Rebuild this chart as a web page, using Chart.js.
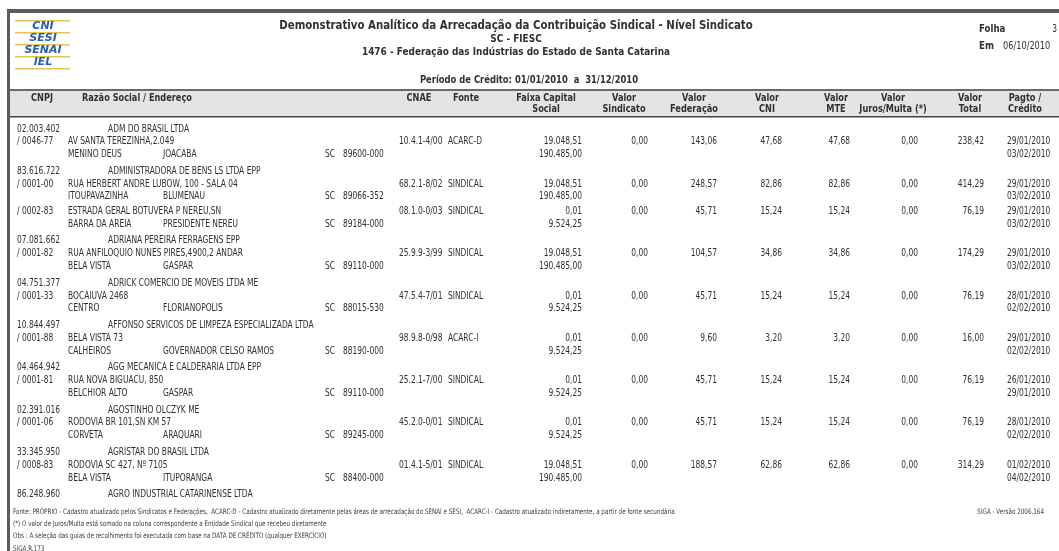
<!DOCTYPE html>
<html>
<head>
<meta charset="utf-8">
<script src="https://cdn.jsdelivr.net/npm/chart.js@4"></script>
<style>
  html, body { margin: 0; padding: 0; background: #fff; }
  canvas { display: block; }
</style>
</head>
<body>
<canvas id="rel" width="1059" height="551"></canvas>
<script>
// --- empresas ---
const cnpjRaiz = ['02.003.402', '83.616.722', '07.081.662', '04.751.377', '10.844.497',
  '04.464.942', '02.391.016', '33.345.950', '86.248.960'];
const razaoSocial = ['ADM DO BRASIL LTDA', 'ADMINISTRADORA DE BENS LS LTDA EPP',
  'ADRIANA PEREIRA FERRAGENS EPP', 'ADRICK COMERCIO DE MOVEIS LTDA ME',
  'AFFONSO SERVICOS DE LIMPEZA ESPECIALIZADA LTDA', 'AGG MECANICA E CALDERARIA LTDA EPP',
  'AGOSTINHO OLCZYK ME', 'AGRISTAR DO BRASIL LTDA', 'AGRO INDUSTRIAL CATARINENSE LTDA'];

// --- estabelecimentos (guias) ---
const empresa = [0, 1, 1, 2, 3, 4, 5, 6, 7];
const filial = ['/ 0046-77', '/ 0001-00', '/ 0002-83', '/ 0001-82', '/ 0001-33', '/ 0001-88',
  '/ 0001-81', '/ 0001-06', '/ 0008-83'];
const endereco = ['AV SANTA TEREZINHA,2.049', 'RUA HERBERT ANDRE LUBOW, 100 - SALA 04',
  'ESTRADA GERAL BOTUVERA P NEREU,SN', 'RUA ANFILOQUIO NUNES PIRES,4900,2 ANDAR',
  'BOCAIUVA 2468', 'BELA VISTA 73', 'RUA NOVA BIGUACU, 850', 'RODOVIA BR 101,SN KM 57',
  'RODOVIA SC 427, Nº 7105'];
const bairro = ['MENINO DEUS', 'ITOUPAVAZINHA', 'BARRA DA AREIA', 'BELA VISTA', 'CENTRO',
  'CALHEIROS', 'BELCHIOR ALTO', 'CORVETA', 'BELA VISTA'];
const cidade = ['JOACABA', 'BLUMENAU', 'PRESIDENTE NEREU', 'GASPAR', 'FLORIANOPOLIS',
  'GOVERNADOR CELSO RAMOS', 'GASPAR', 'ARAQUARI', 'ITUPORANGA'];
const uf = ['SC', 'SC', 'SC', 'SC', 'SC', 'SC', 'SC', 'SC', 'SC'];
const cep = ['89600-000', '89066-352', '89184-000', '89110-000', '88015-530', '88190-000',
  '89110-000', '89245-000', '88400-000'];
const cnae = ['10.4.1-4/00', '68.2.1-8/02', '08.1.0-0/03', '25.9.9-3/99', '47.5.4-7/01',
  '98.9.8-0/98', '25.2.1-7/00', '45.2.0-0/01', '01.4.1-5/01'];
const fonte = ['ACARC-D', 'SINDICAL', 'SINDICAL', 'SINDICAL', 'SINDICAL', 'ACARC-I',
  'SINDICAL', 'SINDICAL', 'SINDICAL'];
const faixaDe = [19048.51, 19048.51, 0.01, 19048.51, 0.01, 0.01, 0.01, 0.01, 19048.51];
const faixaAte = [190485.00, 190485.00, 9524.25, 190485.00, 9524.25, 9524.25, 9524.25, 9524.25, 190485.00];
const valorSindicato = [0, 0, 0, 0, 0, 0, 0, 0, 0];
const valorFederacao = [143.06, 248.57, 45.71, 104.57, 45.71, 9.60, 45.71, 45.71, 188.57];
const valorCNI = [47.68, 82.86, 15.24, 34.86, 15.24, 3.20, 15.24, 15.24, 62.86];
const valorMTE = [47.68, 82.86, 15.24, 34.86, 15.24, 3.20, 15.24, 15.24, 62.86];
const valorJuros = [0, 0, 0, 0, 0, 0, 0, 0, 0];
const valorTotal = [238.42, 414.29, 76.19, 174.29, 76.19, 16.00, 76.19, 76.19, 314.29];
const dataPagto = ['29/01/2010', '29/01/2010', '29/01/2010', '29/01/2010', '28/01/2010',
  '29/01/2010', '26/01/2010', '28/01/2010', '01/02/2010'];
const dataCredito = ['03/02/2010', '03/02/2010', '03/02/2010', '03/02/2010', '02/02/2010',
  '02/02/2010', '29/01/2010', '02/02/2010', '04/02/2010'];

// --- cabeçalho das colunas ---
const cabecalho1 = ['CNPJ', 'Razão Social / Endereço', 'CNAE', 'Fonte', 'Faixa Capital', 'Valor',
  'Valor', 'Valor', 'Valor', 'Valor', 'Valor', 'Pagto /'];
const cabecalho2 = ['', '', '', '', 'Social', 'Sindicato', 'Federação', 'CNI', 'MTE',
  'Juros/Multa (*)', 'Total', 'Crédito'];

const rodape = [
  'Fonte: PRÓPRIO - Cadastro atualizado pelos Sindicatos e Federações,  ACARC-D - Cadastro atualizado diretamente pelas áreas de arrecadação do SENAI e SESI,  ACARC-I - Cadastro atualizado indiretamente, a partir de fonte secundária',
  '(*) O valor de Juros/Multa está somado na coluna correspondente a Entidade Sindical que recebeu diretamente',
  'Obs : A seleção das guias de recolhimento foi executada com base na DATA DE CRÉDITO (qualquer EXERCÍCIO)',
  'SIGA.R.173'
];

// largura horizontal comprimida do relatório
const SX = 0.75;
const FONT = '10px "DejaVu Sans"';
const BOLD = 'bold 10px "DejaVu Sans"';
const INK = '#303030';

function moeda(v) {
  const [i, d] = v.toFixed(2).split('.');
  return i.replace(/\B(?=(\d{3})+(?!\d))/g, '.') + ',' + d;
}

function txt(ctx, s, x, y, align, font, color, sx) {
  ctx.save();
  ctx.translate(x, y);
  ctx.scale(sx || SX, 1);
  ctx.font = font || FONT;
  ctx.fillStyle = color || INK;
  ctx.textAlign = align || 'left';
  ctx.textBaseline = 'middle';
  ctx.fillText(s, 0, 0);
  ctx.restore();
}

// linhas (em unidades de linha de texto)
const linhaEmpresa = [], linhaGuia = [];
let ln = 0;
cnpjRaiz.forEach((c, i) => {
  linhaEmpresa[i] = ln;
  let primeira = true;
  empresa.forEach((e, j) => {
    if (e !== i) return;
    ln += primeira ? 1 : 1.13;
    linhaGuia[j] = ln;
    ln += 1;
    primeira = false;
  });
  ln += 1.305;
});
const linhaBairro = linhaGuia.map(l => l + 1);

function coluna(label, x, align, textos, linhas) {
  return {
    label: label,
    data: linhas.map(l => ({ x: x, y: l })),
    textos: textos,
    align: align,
    pointRadius: 0,
    pointHoverRadius: 0
  };
}

const datasets = [
  coluna('CNPJ', 17, 'left', cnpjRaiz, linhaEmpresa),
  coluna('Razão Social', 108, 'left', razaoSocial, linhaEmpresa),
  coluna('Filial', 17, 'left', filial, linhaGuia),
  coluna('Endereço', 68, 'left', endereco, linhaGuia),
  coluna('Bairro', 68, 'left', bairro, linhaBairro),
  coluna('Cidade', 163, 'left', cidade, linhaBairro),
  coluna('UF', 325, 'left', uf, linhaBairro),
  coluna('CEP', 343, 'left', cep, linhaBairro),
  coluna('CNAE', 399, 'left', cnae, linhaGuia),
  coluna('Fonte', 448, 'left', fonte, linhaGuia),
  coluna('Faixa de', 582, 'right', faixaDe.map(moeda), linhaGuia),
  coluna('Faixa até', 582, 'right', faixaAte.map(moeda), linhaBairro),
  coluna('Sindicato', 648, 'right', valorSindicato.map(moeda), linhaGuia),
  coluna('Federação', 717, 'right', valorFederacao.map(moeda), linhaGuia),
  coluna('CNI', 782, 'right', valorCNI.map(moeda), linhaGuia),
  coluna('MTE', 850, 'right', valorMTE.map(moeda), linhaGuia),
  coluna('Juros', 918, 'right', valorJuros.map(moeda), linhaGuia),
  coluna('Total', 984, 'right', valorTotal.map(moeda), linhaGuia),
  coluna('Pagto', 1007, 'left', dataPagto, linhaGuia),
  coluna('Crédito', 1007, 'left', dataCredito, linhaBairro)
];

const cabX = [42, 82, 419, 466, 546, 624, 694, 767, 836, 893, 970, 1025];
const cabAlign = ['center', 'left', 'center', 'center', 'center', 'center', 'center', 'center',
  'center', 'center', 'center', 'center'];

const relatorio = {
  id: 'relatorio',
  beforeDraw(chart) {
    const ctx = chart.ctx;
    ctx.save();
    ctx.fillStyle = '#fff';
    ctx.fillRect(0, 0, chart.width, chart.height);
    // moldura
    ctx.fillStyle = '#5c5c5c';
    ctx.fillRect(7, 9, chart.width - 7, 4);
    ctx.fillRect(7, 9, 3, chart.height - 9);
    // logo
    ctx.fillStyle = '#e2c35a';
    [20, 32, 44, 56, 68].forEach(y => ctx.fillRect(15, y, 55, 1.5));
    ['CNI', 'SESI', 'SENAI', 'IEL'].forEach((s, i) =>
      txt(ctx, s, 43, 26.5 + i * 12, 'center', 'italic bold 11px "DejaVu Sans"', '#2b5ea9', 1));
    // títulos
    const TIT = 'bold 10.5px "DejaVu Sans"';
    txt(ctx, 'Demonstrativo Analítico da Arrecadação da Contribuição Sindical - Nível Sindicato',
      516, 26, 'center', 'bold 12px "DejaVu Sans"', INK, 0.85);
    txt(ctx, 'SC - FIESC', 516, 39, 'center', TIT, INK, 0.85);
    txt(ctx, '1476 - Federação das Indústrias do Estado de Santa Catarina', 516, 52, 'center', TIT, INK, 0.85);
    txt(ctx, 'Período de Crédito: 01/01/2010  a  31/12/2010', 529, 80, 'center', TIT, INK, 0.8);
    txt(ctx, 'Folha', 979, 29, 'left', TIT, INK, 0.82);
    txt(ctx, '3', 1057, 29, 'right', FONT);
    txt(ctx, 'Em', 979, 46, 'left', TIT, INK, 0.82);
    txt(ctx, '06/10/2010', 1003, 46, 'left', FONT, INK, 0.82);
    // faixa do cabeçalho
    ctx.fillStyle = '#e4e4e4';
    ctx.fillRect(10, 90, chart.width - 10, 26);
    ctx.fillStyle = '#6a6a6a';
    ctx.fillRect(10, 89, chart.width - 10, 2);
    ctx.fillStyle = '#444';
    ctx.fillRect(10, 116, chart.width - 10, 1.5);
    cabecalho1.forEach((s, i) => {
      txt(ctx, s, cabX[i], 98, cabAlign[i], BOLD, INK, 0.82);
      if (cabecalho2[i]) txt(ctx, cabecalho2[i], cabX[i], 109, cabAlign[i], BOLD, INK, 0.82);
    });
    // rodapé
    const PEQ = '7.5px "DejaVu Sans"';
    rodape.forEach((s, i) => txt(ctx, s, 13, 512 + i * 12.2, 'left', PEQ, '#3a3a3a'));
    txt(ctx, 'SIGA - Versão 2006.164', 1044, 512, 'right', PEQ, '#3a3a3a');
    ctx.restore();
  },
  afterDatasetsDraw(chart) {
    const ctx = chart.ctx;
    chart.data.datasets.forEach((ds, i) => {
      chart.getDatasetMeta(i).data.forEach((pt, k) =>
        txt(ctx, ds.textos[k], pt.x, pt.y, ds.align));
    });
  }
};

// 12,8 px por linha; linha 0 em y = 129
const PASSO = 12.8, TOPO = 129;
new Chart(document.getElementById('rel'), {
  type: 'scatter',
  data: { datasets: datasets },
  options: {
    responsive: false,
    animation: false,
    events: [],
    layout: { padding: 0 },
    plugins: { legend: { display: false }, tooltip: { enabled: false } },
    scales: {
      x: { type: 'linear', min: 0, max: 1059, display: false },
      y: { type: 'linear', min: -TOPO / PASSO, max: (551 - TOPO) / PASSO, reverse: true, display: false }
    }
  },
  plugins: [relatorio]
});
</script>
</body>
</html>
